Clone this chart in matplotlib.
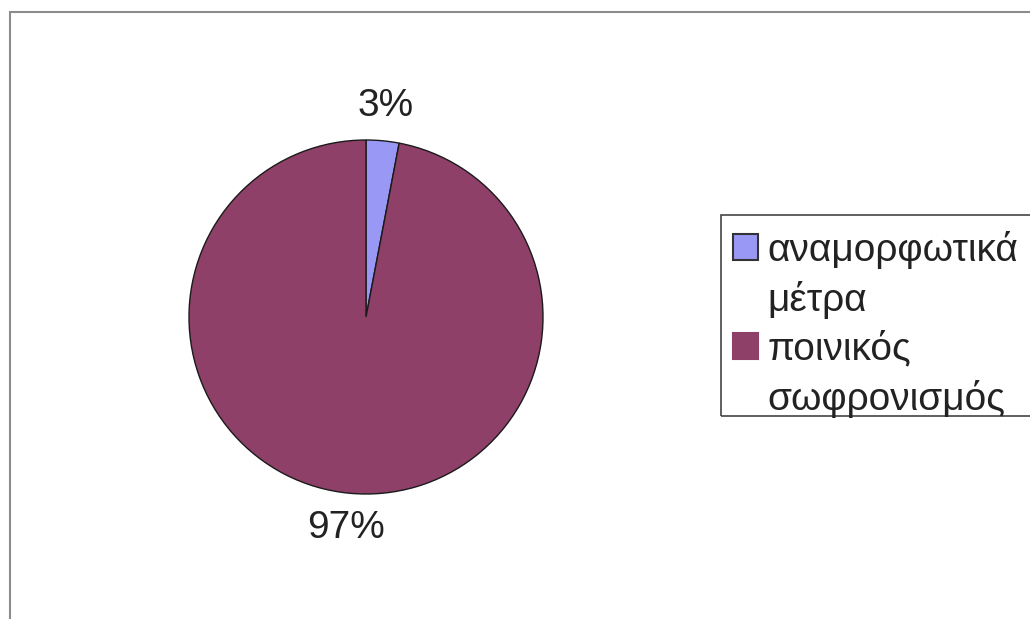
import matplotlib
matplotlib.use("Agg")
import matplotlib.pyplot as plt
from matplotlib.patches import Rectangle, Patch

categories = ["αναμορφωτικά\nμέτρα", "ποινικός\nσωφρονισμός"]
values = [3, 97]
colors = ["#9999F5", "#8E4068"]

plt.rcParams['font.family'] = ['Liberation Sans', 'DejaVu Sans']

W, H = 1030, 619
fig = plt.figure(figsize=(W / 100, H / 100), dpi=100)
fig.patch.set_facecolor("white")

# outer chart frame
fig.patches.append(Rectangle((10 / W, -0.1), 1.2, 1 - 12 / H + 0.1, transform=fig.transFigure,
                             fill=False, edgecolor="#8c8c8c", linewidth=1.5, zorder=0))

cx, cy, r = 366, 317, 177
ax = fig.add_axes([(cx - r) / W, (H - cy - r) / H, 2 * r / W, 2 * r / H])
wedges, texts, autotexts = ax.pie(values, colors=colors, startangle=90, counterclock=False,
                                  autopct=lambda p: f"{p:.0f}%", pctdistance=1.2,
                                  wedgeprops=dict(edgecolor="#1a1a1a", linewidth=1.0),
                                  textprops=dict(fontsize=28, color="#222222"))
ax.set_xlim(-1, 1)
ax.set_ylim(-1, 1)
ax.set_aspect("equal")
ax.axis("off")

# legend: handle aligned with first line of each (wrapped) label
handles, labels = [], []
for w, c, cat in zip(wedges, colors, categories):
    lines = cat.split("\n")
    handles.append(Patch(facecolor=c, edgecolor="#333333" if c == colors[0] else c, linewidth=1.5))
    labels.append(lines[0])
    for extra in lines[1:]:
        handles.append(Patch(facecolor="none", edgecolor="none"))
        labels.append(extra)

leg = fig.legend(handles, labels, loc="upper left",
                 bbox_to_anchor=(733 / W, 1 - 231 / H), bbox_transform=fig.transFigure,
                 fontsize=28, frameon=False,
                 handlelength=0.64, handleheight=0.64, handletextpad=0.25,
                 labelspacing=0.31, borderpad=0, borderaxespad=0)
for t in leg.get_texts():
    t.set_color("#222222")

# legend frame (Excel-style box running off the right edge)
fig.patches.append(Rectangle((721 / W, 1 - 416 / H), 0.4, (416 - 215) / H, transform=fig.transFigure,
                             fill=False, edgecolor="#444444", linewidth=1.2, zorder=1))

fig.savefig("out.png", dpi=100)
